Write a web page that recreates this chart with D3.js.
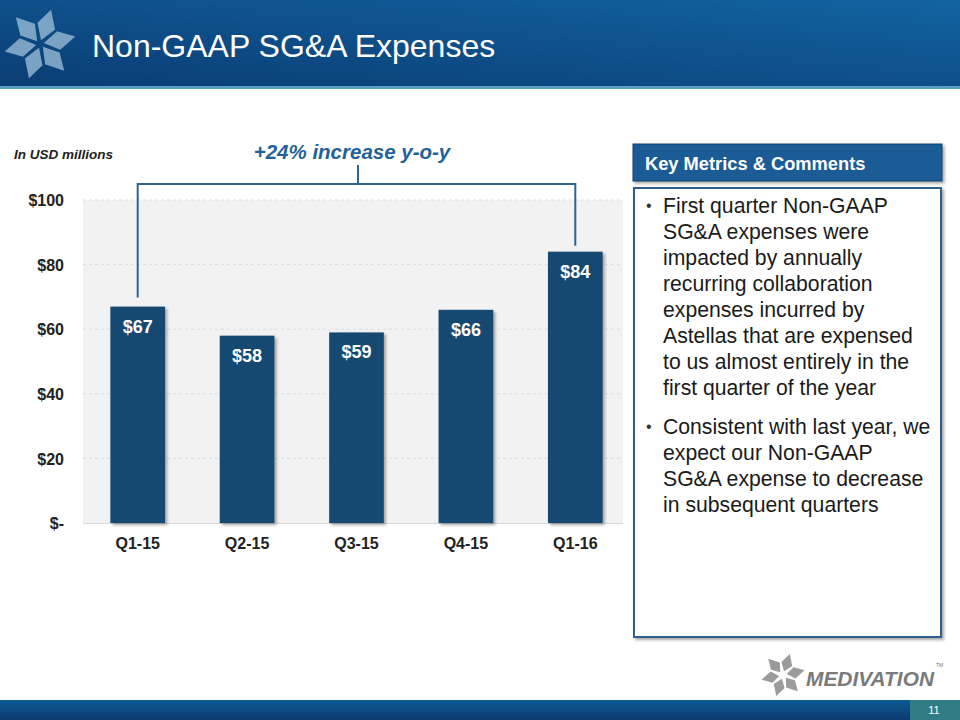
<!DOCTYPE html>
<html><head><meta charset="utf-8">
<script src="https://cdn.jsdelivr.net/npm/d3@7/dist/d3.min.js"></script>
<style>body{margin:0;background:#fff;}svg{display:block;font-family:Arial,"Liberation Sans",sans-serif;}</style>
</head><body>
<script>
const categories = ["Q1-15","Q2-15","Q3-15","Q4-15","Q1-16"];
const values = [67,58,59,66,84];
const valueLabels = ["$67","$58","$59","$66","$84"];
const yTicks = [0,20,40,60,80,100];
const yTickLabels = ["$-","$20","$40","$60","$80","$100"];
const bullets = [
  ["First quarter Non-GAAP","SG&A expenses were","impacted by annually","recurring collaboration","expenses incurred by","Astellas that are expensed","to us almost entirely in the","first quarter of the year"],
  ["Consistent with last year, we","expect our Non-GAAP","SG&A expense to decrease","in subsequent quarters"]
];

const W=960,H=720;
const svg=d3.select("body").append("svg").attr("width",W).attr("height",H);
const defs=svg.append("defs");
const hg=defs.append("linearGradient").attr("id","hdr").attr("x1","0").attr("y1","1").attr("x2","1").attr("y2","0");
hg.append("stop").attr("offset","0").attr("stop-color","#0a3d74");
hg.append("stop").attr("offset","1").attr("stop-color","#1263a0");
const fg=defs.append("linearGradient").attr("id","ftr").attr("x1","0").attr("y1","0").attr("x2","0").attr("y2","1");
fg.append("stop").attr("offset","0").attr("stop-color","#0e5a95");
fg.append("stop").attr("offset","1").attr("stop-color","#0a3a70");
const sh=defs.append("filter").attr("id","sh").attr("x","-10%").attr("y","-10%").attr("width","130%").attr("height","130%");
sh.append("feDropShadow").attr("dx",2).attr("dy",2).attr("stdDeviation",1.5).attr("flood-color","#000").attr("flood-opacity",0.35);

// header
svg.append("rect").attr("x",0).attr("y",0).attr("width",W).attr("height",87).attr("fill","url(#hdr)");
svg.append("rect").attr("x",0).attr("y",86).attr("width",W).attr("height",3).attr("fill","#5b9ec4");
// star logo
function star(g,cx,cy,r,col){
  for(let i=0;i<6;i++){
    const a=i*60+15;
    g.append("path").attr("transform",`translate(${cx},${cy}) rotate(${a})`)
     .attr("d",`M0,-4 L${-r*0.22},${-r*0.55} L${r*0.05},${-r} L${r*0.3},${-r*0.5} Z`)
     .attr("fill",col).attr("opacity",0.85);
  }
}
star(svg.append("g"),40,44,36,"#8fb3cf");
svg.append("text").attr("x",92).attr("y",57).attr("fill","#fff").attr("font-size",32).text("Non-GAAP SG&A Expenses");

// footer
svg.append("rect").attr("x",0).attr("y",700).attr("width",W).attr("height",20).attr("fill","url(#ftr)");
svg.append("rect").attr("x",910).attr("y",700).attr("width",50).attr("height",20).attr("fill","#2f7c84");
svg.append("text").attr("x",934).attr("y",714).attr("fill","#fff").attr("font-size",11).attr("text-anchor","middle").text("11");
// bottom logo
star(svg.append("g"),783,675,22,"#8a8a8a");
svg.append("text").attr("x",806).attr("y",686).attr("fill","#7a7a7a").attr("font-size",21).attr("font-style","italic").attr("font-weight","bold")
 .attr("textLength",128).attr("lengthAdjust","spacingAndGlyphs").text("MEDIVATION");
svg.append("text").attr("x",936).attr("y",667).attr("fill","#7a7a7a").attr("font-size",5).text("TM");

// chart
const x=d3.scaleBand().domain(categories).range([83,630]).paddingInner(0.5).paddingOuter(0.25);
const y=d3.scaleLinear().domain([0,100]).range([523,200]);
svg.append("rect").attr("x",83).attr("y",200).attr("width",540).attr("height",323).attr("fill","#f2f2f2");
svg.append("g").selectAll("line").data(yTicks.slice(1)).join("line")
 .attr("x1",83).attr("x2",623).attr("y1",d=>y(d)).attr("y2",d=>y(d))
 .attr("stroke","#d9dde3").attr("stroke-dasharray","3,3").attr("stroke-width",1);
svg.append("line").attr("x1",83).attr("x2",623).attr("y1",y(0)+0.5).attr("y2",y(0)+0.5).attr("stroke","#d9d9d9");
const yAxis=d3.axisLeft(y).tickValues(yTicks).tickFormat((d,i)=>yTickLabels[i]).tickSize(0).tickPadding(0);
const ya=svg.append("g").attr("transform","translate(64,0)").call(yAxis);
ya.select(".domain").remove();
ya.selectAll("text").attr("font-size",16).attr("font-weight","bold").attr("fill","#222").attr("font-family","Arial,'Liberation Sans',sans-serif").attr("dy","0.35em");
const xAxis=d3.axisBottom(x).tickSize(0).tickPadding(0);
const xa=svg.append("g").attr("transform","translate(0,538)").call(xAxis);
xa.select(".domain").remove();
xa.selectAll("text").attr("font-size",16).attr("font-weight","bold").attr("fill","#222").attr("font-family","Arial,'Liberation Sans',sans-serif").attr("dy","0.71em");

svg.append("g").selectAll("rect").data(values).join("rect")
 .attr("x",(d,i)=>x(categories[i])).attr("width",x.bandwidth())
 .attr("y",d=>y(d)).attr("height",d=>y(0)-y(d))
 .attr("fill","#144a72").attr("filter","url(#sh)");
svg.append("g").selectAll("text").data(values).join("text")
 .attr("x",(d,i)=>x(categories[i])+x.bandwidth()/2).attr("y",d=>y(d)+26)
 .attr("text-anchor","middle").attr("fill","#fff").attr("font-size",18).attr("font-weight","bold")
 .text((d,i)=>valueLabels[i]);

// bracket
const x0=x(categories[0])+x.bandwidth()/2, x1=x(categories[4])+x.bandwidth()/2, by=184;
svg.append("path").attr("d",`M${x0},${y(values[0])-9} V${by} H${x1} V${y(values[4])-6}`)
 .attr("fill","none").attr("stroke","#2a6596").attr("stroke-width",2);
svg.append("line").attr("x1",358).attr("x2",358).attr("y1",165).attr("y2",by).attr("stroke","#2a6596").attr("stroke-width",2);
svg.append("text").attr("x",352).attr("y",159).attr("text-anchor","middle").attr("fill","#21629a")
 .attr("font-size",20.5).attr("font-weight","bold").attr("font-style","italic").text("+24% increase y-o-y");
svg.append("text").attr("x",14).attr("y",159).attr("fill","#222").attr("font-size",13.5).attr("font-weight","bold").attr("font-style","italic").text("In USD millions");

// right panel
svg.append("rect").attr("x",633).attr("y",144).attr("width",309).attr("height",37).attr("fill","#1a5c96").attr("stroke","#0f3f6b").attr("stroke-width",1).attr("filter","url(#sh)");
svg.append("text").attr("x",645).attr("y",170).attr("fill","#fff").attr("font-size",18.3).attr("font-weight","bold").text("Key Metrics & Comments");
svg.append("rect").attr("x",634).attr("y",188).attr("width",307).attr("height",449).attr("fill","#fff").attr("stroke","#2d5f8e").attr("stroke-width",2).attr("filter","url(#sh)");
let yy=213;
bullets.forEach((lines,bi)=>{
  svg.append("text").attr("x",646).attr("y",yy-2).attr("fill","#333").attr("font-size",16).text("•");
  lines.forEach((l,li)=>{
    svg.append("text").attr("x",663).attr("y",yy).attr("fill","#1a1a1a").attr("font-size",21.2).text(l);
    yy+=26;
  });
  yy+=13;
});
</script>
</body></html>
